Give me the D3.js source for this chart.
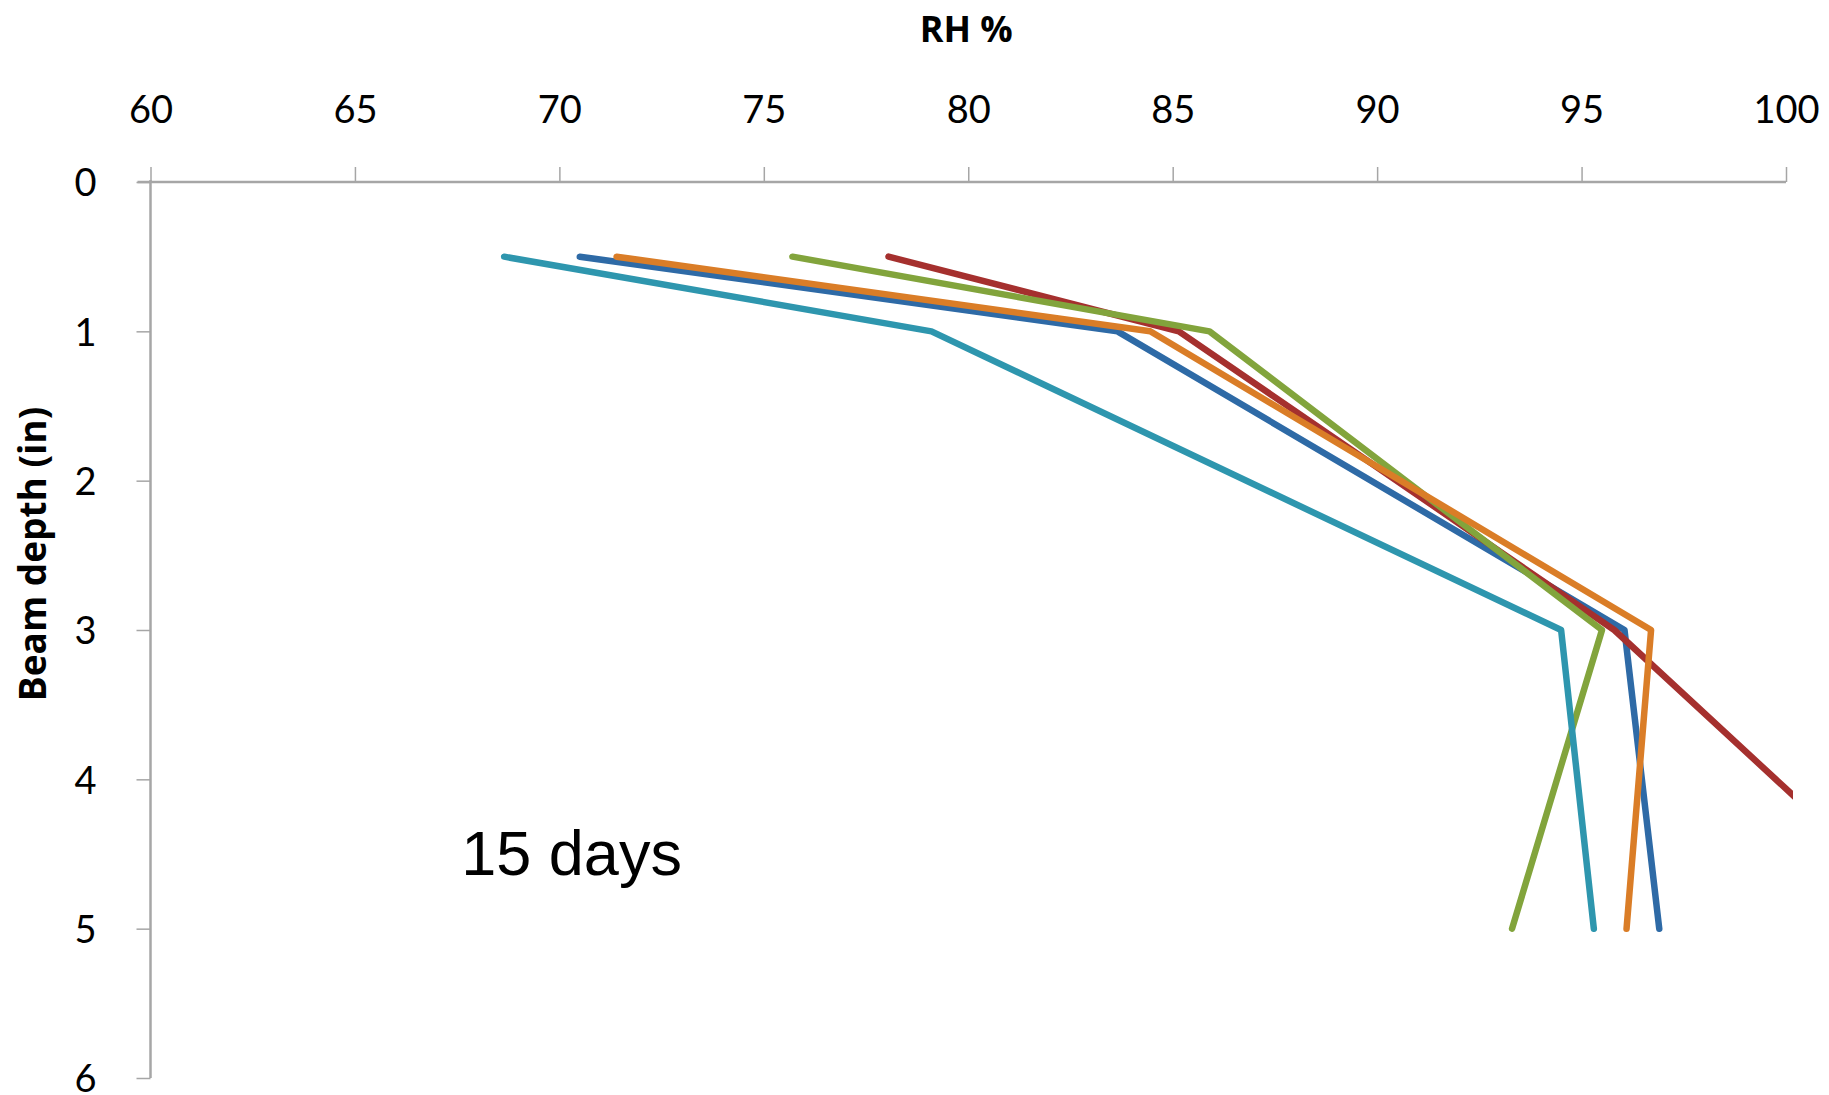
<!DOCTYPE html>
<html>
<head>
<meta charset="utf-8">
<script src="https://cdn.jsdelivr.net/npm/d3@7"></script>
<style>
  html, body { margin: 0; padding: 0; background: #fff; }
  svg { display: block; }
</style>
</head>
<body>
<svg id="chart" width="1829" height="1095"></svg>
<script>
// Depths (in) at which relative humidity was measured
const depths = [0.5, 1, 3, 5];

// RH % readings per sensor line, at each depth above
const seriesBlue   = [70.5, 83.65, 96.05, 96.9];
const seriesRed    = [78.05, 85.15, 95.8, 103.7];
const seriesGreen  = [75.7, 85.9, 95.5, 93.3];
const seriesCyan   = [68.65, 79.1, 94.5, 95.3];
const seriesOrange = [71.4, 84.45, 96.7, 96.1];

const seriesNames  = ["blue", "red", "green", "cyan", "orange"];
const seriesColors = ["#2E6AA6", "#A5302E", "#82A43C", "#2E96AE", "#DA7D27"];
const seriesValues = [seriesBlue, seriesRed, seriesGreen, seriesCyan, seriesOrange];

const xTicks = [60, 65, 70, 75, 80, 85, 90, 95, 100];
const yTicks = [0, 1, 2, 3, 4, 5, 6];

const svg = d3.select("#chart");
const plotLeft = 150.5, plotRight = 1786, plotTop = 182, plotBottom = 1078;

const x = d3.scaleLinear().domain([60, 100]).range([plotLeft, plotRight]);
const y = d3.scaleLinear().domain([0, 6]).range([plotTop, plotBottom]);

const axisColor = "#A6A6A6";
const tickFont = "Lato, 'Open Sans', sans-serif";

// Plot-area clip (lines running past 100 % are cut at the frame edge)
svg.append("defs").append("clipPath").attr("id", "plotClip")
  .append("rect").attr("x", plotLeft - 10).attr("y", plotTop - 10)
  .attr("width", plotRight - plotLeft + 17).attr("height", plotBottom - plotTop + 20);

// Top (RH) axis
const xAxis = svg.append("g")
  .attr("transform", `translate(0,${plotTop})`)
  .call(d3.axisTop(x).tickValues(xTicks).tickFormat(d3.format("d"))
    .tickSize(15).tickSizeOuter(0).tickPadding(44));
xAxis.select(".domain").attr("stroke", axisColor).attr("stroke-width", 2.5)
  .attr("d", `M${plotLeft - 13},0H${plotRight}`);
xAxis.selectAll(".tick line").attr("stroke", axisColor).attr("stroke-width", 1.5);
xAxis.selectAll(".tick text")
  .attr("font-family", tickFont).attr("font-size", 38).attr("fill", "#000");

// Left (depth) axis
const yAxis = svg.append("g")
  .attr("transform", `translate(${plotLeft},0)`)
  .call(d3.axisLeft(y).tickValues(yTicks).tickFormat(d3.format("d"))
    .tickSize(14).tickSizeOuter(0).tickPadding(40));
yAxis.select(".domain").attr("stroke", axisColor).attr("stroke-width", 2.5)
  .attr("d", `M0,${plotTop - 2}V${plotBottom}`);
yAxis.selectAll(".tick line").attr("stroke", axisColor).attr("stroke-width", 1.5);
yAxis.selectAll(".tick text")
  .attr("font-family", tickFont).attr("font-size", 38).attr("fill", "#000")
  .attr("dy", "0.36em");

// Axis titles
svg.append("text")
  .attr("x", (plotLeft + plotRight) / 2 - 2).attr("y", 42)
  .attr("text-anchor", "middle")
  .attr("font-family", "'Open Sans', Lato, sans-serif").attr("font-weight", "bold")
  .attr("font-size", 36).attr("fill", "#000")
  .text("RH %");

svg.append("text")
  .attr("transform", `translate(46,${(plotTop + plotBottom) / 2 - 76}) rotate(-90)`)
  .attr("text-anchor", "middle")
  .attr("font-family", "'Open Sans', Lato, sans-serif").attr("font-weight", "bold")
  .attr("font-size", 37).attr("fill", "#000")
  .text("Beam depth (in)");

// RH profiles
const line = d3.line()
  .x(d => x(d.rh))
  .y(d => y(d.depth));

const plot = svg.append("g").attr("clip-path", "url(#plotClip)");
seriesValues.forEach((vals, i) => {
  const pts = vals.map((rh, j) => ({ rh, depth: depths[j] }));
  plot.append("path")
    .datum(pts)
    .attr("class", "series-" + seriesNames[i])
    .attr("fill", "none")
    .attr("stroke", seriesColors[i])
    .attr("stroke-width", 6.5)
    .attr("stroke-linecap", "round")
    .attr("stroke-linejoin", "round")
    .attr("d", line);
});

// Curing age label
svg.append("text")
  .attr("x", x(67.6)).attr("y", y(4.64))
  .attr("font-family", "'Liberation Sans', Arial, sans-serif")
  .attr("font-size", 63).attr("fill", "#000")
  .text("15 days");
</script>
</body>
</html>
